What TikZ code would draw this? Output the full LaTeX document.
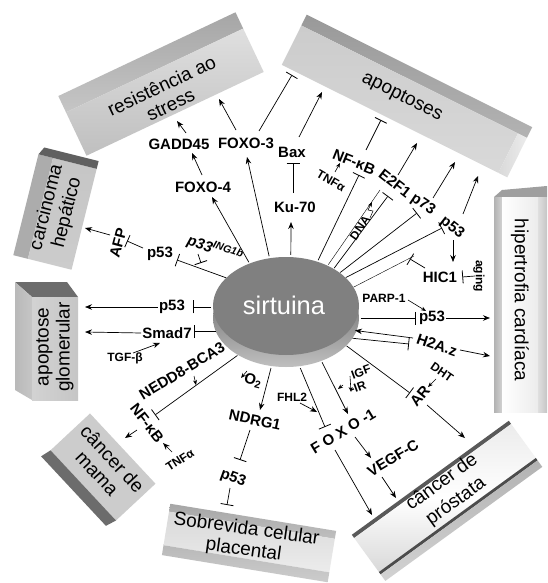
\documentclass[tikz,border=0pt]{standalone}
\usepackage{fontspec}
\setmainfont{Liberation Sans}
\usetikzlibrary{arrows.meta,shapes.geometric}
\begin{document}
\begin{tikzpicture}[x=1pt,y=-1pt,
 lb/.style={font=\bfseries\fontsize{15}{16}\selectfont,inner sep=1pt},
 sm/.style={font=\bfseries\fontsize{12}{13}\selectfont,inner sep=1pt},
 bt/.style={font=\fontsize{19}{21}\selectfont,align=center,inner sep=0pt},
 arr/.style={-{Stealth[length=7pt,width=5.5pt]},line width=0.7pt},
 sarr/.style={-{Stealth[length=5pt,width=4pt]},line width=0.6pt},
 inh/.style={-{Bar[width=13pt,line width=0.8pt]},line width=0.7pt},
 sh/.style={shorten <=2pt},
]
\useasboundingbox (0,0) rectangle (547,583);
\fill[white] (0,0) rectangle (547,583);

% ---------- boxes ----------
% resistencia ao stress
\begin{scope}[shift={(161,84)},rotate=25.3]
\shade[top color=gray!70,bottom color=gray!45] (-98,-33) rectangle (98,-15);
\shade[top color=gray!25,middle color=white,bottom color=gray!50] (-98,-15) rectangle (98,33);
\end{scope}
\node[bt,rotate=25.3] (res) at (166,95) {resistência ao\\stress};
% apoptoses
\begin{scope}[shift={(407,96)},rotate=-26.5]
\shade[top color=gray!80,bottom color=gray!60] (-126,-28) rectangle (126,-16);
\shade[top color=gray!40,bottom color=gray!30] (-126,-16) rectangle (116,28);
\shade[left color=gray!30,right color=gray!15] (116,-16) rectangle (126,28);
\end{scope}
\node[bt,rotate=-26.5] (apo) at (402,97) {apoptoses};
% hipertrofia cardiaca
\fill[gray!75] (494,197) -- (502,190) -- (547,186) -- (547,197) -- cycle;
\shade[left color=gray!60,right color=gray!35] (494,197) rectangle (502,412);
\shade[left color=white,right color=gray!15] (502,197) rectangle (538,412);
\shade[left color=gray!25,right color=gray!45] (538,197) rectangle (547,412);
\node[bt,rotate=-90] (hip) at (520,300) {hipertrofia cardíaca};
% cancer de prostata
\begin{scope}[shift={(445,498)},rotate=36]
\fill[gray!70!black] (-97,-25) rectangle (97,-21);
\shade[top color=gray!15,bottom color=gray!30,middle color=white] (-97,-21) rectangle (97,21);
\fill[gray!60!black] (-97,21) rectangle (97,24);
\shade[top color=gray!60,bottom color=gray!35] (-97,24) rectangle (97,32);
\end{scope}
\node[bt,rotate=36,font=\fontsize{19}{24}\selectfont] (pro) at (449,492) {câncer de\\próstata};
% sobrevida celular placental
\begin{scope}[shift={(249,543)},rotate=-9.3]
\shade[top color=gray!70,bottom color=gray!50] (-84,-26) rectangle (84,-18);
\shade[top color=gray!30,bottom color=gray!15] (-84,-18) rectangle (84,16);
\shade[top color=gray!55,bottom color=gray!40] (-84,16) rectangle (84,26);
\end{scope}
\node[bt,rotate=-8] (sob) at (245,540) {Sobrevida celular\\placental};
% cancer de mama
\begin{scope}[shift={(103,467)},rotate=-47]
\fill[gray!40] (-48,-27) rectangle (48,27);
\fill[gray!85!black] (-48,27) -- (48,27) -- (45,38) -- (-50,38) -- cycle;
\end{scope}
\node[bt,rotate=-47] (mam) at (105,466) {câncer de\\mama};
% apoptose glomerular
\fill[gray!85!black] (15,282) -- (67,282) -- (78,297) -- (32,297) -- cycle;
\shade[left color=gray!55,right color=gray!45] (15,282) -- (32,297) -- (32,400) -- (15,390) -- cycle;
\shade[left color=gray!35,right color=gray!45] (32,297) rectangle (78,400);
\node[bt,rotate=90] (glo) at (55,347) {apoptose\\glomerular};
% carcinoma hepatico
\begin{scope}[shift={(55,212)},rotate=76]
\fill[gray!65] (-52,-30) rectangle (52,-15);
\shade[top color=gray!45,bottom color=gray!40] (-52,-15) rectangle (52,30);
\fill[gray!75!black] (52,-30) -- (60,-26) -- (60,30) -- (52,30) -- cycle;
\end{scope}
\node[bt,rotate=76] (car) at (57,210) {carcinoma\\hepático};

% ---------- sirtuina disk ----------
\shade[top color=black!65,bottom color=black!25] (286,318) ellipse [x radius=73,y radius=49];
\fill[black!50] (286,306) ellipse [x radius=73,y radius=49];
\node[ellipse,minimum width=146pt,minimum height=110pt,inner sep=0pt] (s) at (286,312) {};
\node[font=\fontsize{25.5}{26}\selectfont,text=white] (st) at (284,305) {sirtuina};

% ---------- labels ----------
\node[lb] (gadd) at (179,144) {GADD45};
\node[lb] (foxo3) at (246,143) {FOXO-3};
\node[lb] (foxo4) at (203,187) {FOXO-4};
\node[lb] (bax) at (292,152) {Bax};
\node[lb] (ku) at (295,207) {Ku-70};
\node[lb,rotate=-22] (nfkb1) at (354,162) {NF-κB};
\node[sm,rotate=-30] (tnf1) at (331,181) {TNFα};
\node[lb,rotate=-38] (e2f1) at (395,183) {E2F1};
\node[sm,rotate=55] (dna) at (360,228) {DNA};
\node[lb,rotate=-34] (p73) at (423,205) {p73};
\node[lb,rotate=-38] (p53ur) at (452,228) {p53};
\node[lb] (hic1) at (440,277) {HIC1};
\node[sm,rotate=-90] (aging) at (479,276) {aging};
\node[sm] (parp) at (384,298) {PARP-1};
\node[lb] (p53r) at (432,318) {p53};
\node[lb,rotate=-19] (h2az) at (437,345) {H2A.z};
\node[sm,rotate=-35] (dht) at (442,372) {DHT};
\node[lb,rotate=50] (ar) at (420,396) {AR};
\node[sm,rotate=20] (igf) at (361,372) {IGF};
\node[sm,rotate=20] (ir) at (358,387) {-IR};
\node[lb,rotate=31] (foxo1) at (343,431) {F O X O -1};
\node[sm] (fhl2) at (292,397) {FHL2};
\node[lb,rotate=31] (vegf) at (393,458) {VEGF-C};
\node[lb,rotate=-12] (ndrg1) at (255,420) {NDRG1};
\node[lb,rotate=-15] (o2) at (253,381) {O\textsubscript{2}};
\node[lb,rotate=31] (nedd8) at (182,371) {NEDD8-BCA3};
\node[lb,rotate=-52] (nfkb2) at (147,423) {NF-κB};
\node[sm,rotate=33] (tnf2) at (180,460) {TNFα};
\node[lb,rotate=-20] (p53b) at (233,478) {p53};
\node[lb] (smad7) at (167,333) {Smad7};
\node[sm] (tgfb) at (125,358) {TGF-β};
\node[lb] (p53l) at (172,307) {p53};
\node[lb] (p53ul) at (160,254) {p53};
\node[lb,rotate=-18] (p33) at (215,249) {\itshape p33\textsuperscript{ING1b}};
\node[lb,rotate=75] (afp) at (118,243) {AFP};

% ---------- free ends ----------
\coordinate (rA) at (177,121);
\coordinate (rB) at (219,99);
\coordinate (aA) at (292,75);
\coordinate (aB) at (322,92);
\coordinate (aC) at (381,120);
\coordinate (aD) at (417,143);
\coordinate (aE) at (455,162);
\coordinate (aF) at (478,176);
\coordinate (hA) at (490,318);
\coordinate (hB) at (490,356);
\coordinate (pA) at (372,515);
\coordinate (pB) at (465,438);
\coordinate (pC) at (396,498);
\coordinate (sA) at (227,505);
\coordinate (mA) at (125,438);
\coordinate (gA) at (85,307);
\coordinate (gB) at (85,332);
\coordinate (cA) at (85,228);
\coordinate (e2b) at (388,196);
\coordinate (hicb) at (414,256);

% ---------- connectors ----------
\draw[arr] ([shift={(7,-11)}]gadd.center) -- (rA);
\draw[arr] ([shift={(-1,-12)}]foxo4.center) -- ([shift={(13,9)}]gadd.center);
\draw[arr] ([shift={(-10,-13)}]foxo3.center) -- (rB);
\draw[inh] ([shift={(13,-12)}]foxo3.center) -- (aA);
\draw[arr,sh] (s.127) -- ([shift={(9,10)}]foxo4.center);
\draw[arr,sh] (s.107) -- ([shift={(1,14)}]foxo3.center);
\draw[arr,sh] (s.85) -- ([shift={(-4,15)}]ku.center);
\draw[inh] ([shift={(-2,-14)}]ku.center) -- ([shift={(1,11)}]bax.center);
\draw[arr] ([shift={(7,-15)}]bax.center) -- (aB);
\draw[sarr] ([shift={(4,-9)}]tnf1.center) -- ([shift={(-14,1)}]nfkb1.center);
\draw[inh,sh] (s.58) -- ([shift={(5,13)}]nfkb1.center);
\draw[inh] ([shift={(12,-12)}]nfkb1.center) -- (aC);
\draw[sh] (s.48) -- ([shift={(-15,7)}]e2f1.center);
\draw[inh,sh] (s.42) -- (e2b);
\draw[arr] ([shift={(3,-8)}]e2f1.center) -- (aD);
\draw[inh,sh] (s.36) -- ([shift={(-6,8)}]p73.center);
\draw[arr] ([shift={(10,-7)}]p73.center) -- (aE);
\draw[inh,sh] (s.30) -- ([shift={(-10,0)}]p53ur.center);
\draw[arr] ([shift={(11,-14)}]p53ur.center) -- (aF);
\draw[sh] (s.20) -- (hicb);
\draw[inh] ([shift={(-15,-9)}]hic1.center) -- ([shift={(-30,-18)}]hic1.center);
\draw[arr] ([shift={(1,12)}]p53ur.center) -- ([shift={(13,-15)}]hic1.center);
\draw[inh] ([shift={(-4,0)}]aging.center) -- ([shift={(4,0)}]hic1.east);
\draw[sarr] ([shift={(24,2)}]parp.center) -- ([shift={(-6,-7)}]p53r.center);
\draw[inh,sh] (s.-5) -- ([xshift=-2pt]s.-5 -| p53r.west);
\draw[arr] (p53r.east) -- (hA);
\draw[arr] ([shift={(-24,-7)}]h2az.center) -- (s.-15);
\draw[inh,sh] (s.-22) -- ([shift={(-28,-1)}]h2az.center);
\draw[arr] ([shift={(23,5)}]h2az.center) -- (hB);
\draw[inh,sh] (s.-29) -- ([shift={(-10,-3)}]ar.center);
\draw[sarr] ([shift={(-6,7)}]dht.center) -- ([shift={(8,-9)}]ar.center);
\draw[arr] ([shift={(7,9)}]ar.center) -- (pB);
\draw[arr,sh] (s.-54) -- ([shift={(5,-17)}]foxo1.center);
\draw[sarr] ([shift={(-18,13)}]igf.center) -- ([shift={(-20,2)}]ir.center);
\draw[sarr] ([shift={(-11,4)}]igf.center) -- ([shift={(-7,5)}]ir.center);
\draw[inh,sh] (s.-76) -- ([shift={(-18,-4)}]foxo1.center);
\draw[arr] ([shift={(8,6)}]fhl2.center) -- ([shift={(25,15)}]fhl2.center);
\draw[arr] ([shift={(-8,19)}]foxo1.center) -- (pA);
\draw[arr] ([shift={(12,6)}]foxo1.center) -- ([shift={(-22,0)}]vegf.center);
\draw[arr] ([shift={(-11,19)}]vegf.center) -- (pC);
\draw[arr,sh] (s.-105) -- ([shift={(5,-10)}]ndrg1.center);
\draw[sarr] ([shift={(-6,-10)}]o2.center) -- ([shift={(-12,-3)}]o2.center);
\draw[inh] ([shift={(-5,10)}]ndrg1.center) -- ([shift={(7,-18)}]p53b.center);
\draw[inh] ([shift={(-3,10)}]p53b.center) -- (sA);
\draw[inh,sh] (s.-138) -- ([shift={(8,-8)}]nfkb2.center);
\draw[sarr] ([shift={(12,5)}]nedd8.center) -- ([shift={(14,14)}]nedd8.center);
\draw[arr] ([shift={(-10,7)}]nfkb2.center) -- (mA);
\draw[arr] ([shift={(-8,-8)}]tnf2.center) -- ([shift={(16,20)}]nfkb2.center);
\draw[arr] ([shift={(8,-5)}]tgfb.center) -- ([shift={(-7,10)}]smad7.center);
\draw[arr] (smad7.west) -- (gB);
\draw[inh,sh] (s.196) -- ([xshift=1pt]s.196 -| smad7.east);
\draw[arr] (p53l.west) -- (gA);
\draw[inh,sh] (s.176) -- ([xshift=7pt]s.176 -| p53l.east);
\draw[inh,sh] (s.150) -- ([shift={(17,6)}]p53ul.center);
\draw[inh] ([shift={(-17,5)}]p33.center) -- ([shift={(-14,14)}]p33.center);
\draw[inh] ([shift={(-17,-6)}]p53ul.center) -- ([shift={(9,-2)}]afp.center);
\draw[arr] ([shift={(-8,-8)}]afp.center) -- (cA);
% DNA damage bolt
\draw[sarr,line width=0.5pt] (370,218) -- (373,211) -- (368,210) -- (372,202);
\end{tikzpicture}
\end{document}
